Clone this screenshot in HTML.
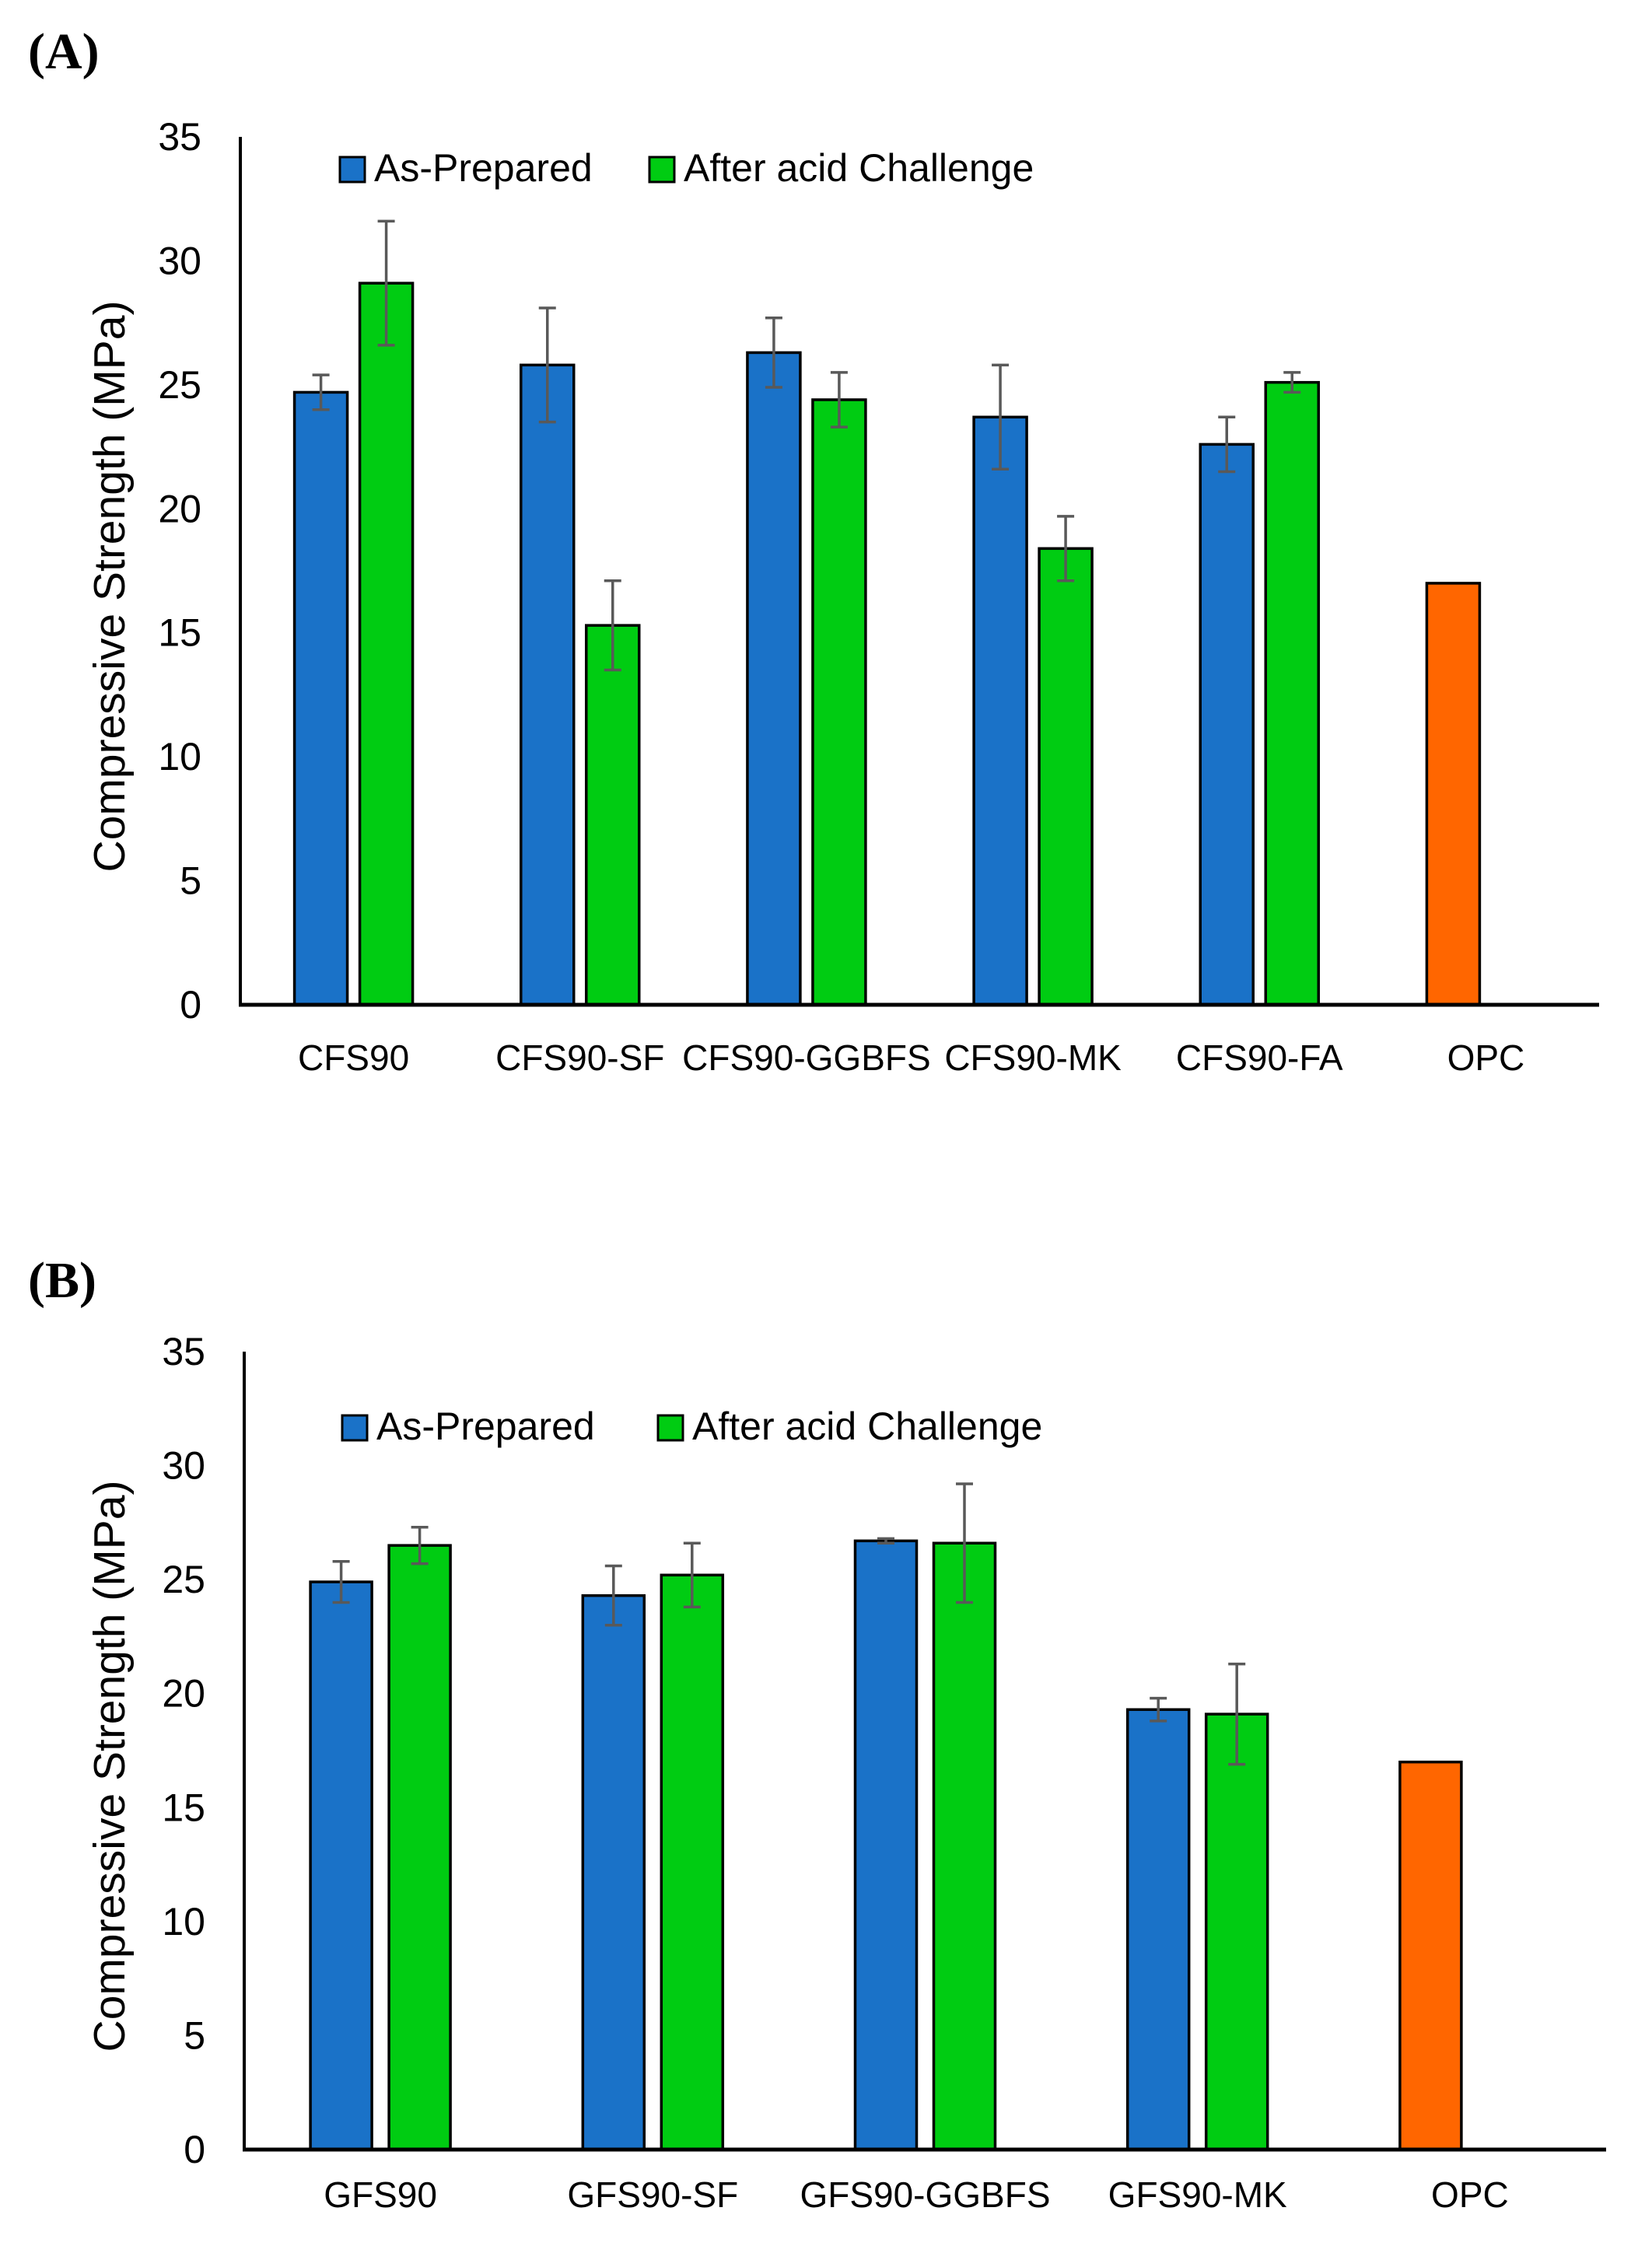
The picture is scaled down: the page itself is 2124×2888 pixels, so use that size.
<!DOCTYPE html>
<html><head><meta charset="utf-8">
<style>
html,body{margin:0;padding:0;background:#fff;}
svg{display:block;}
text{font-family:"Liberation Sans",sans-serif;}
</style></head>
<body>
<svg id="fig" width="2124" height="2888" viewBox="0 0 2124 2888" xmlns="http://www.w3.org/2000/svg">
<rect width="2124" height="2888" fill="#fff"/>
</svg>
<script>
// Panel A data
const catsA = ["CFS90","CFS90-SF","CFS90-GGBFS","CFS90-MK","CFS90-FA","OPC"];
const prepA = [24.7, 25.8, 26.3, 23.7, 22.6, 17.0];
const prepErrA = [0.7, 2.3, 1.4, 2.1, 1.1, 0];
const acidA = [29.1, 15.3, 24.4, 18.4, 25.1, null];
const acidErrA = [2.5, 1.8, 1.1, 1.3, 0.4, 0];
// Panel B data
const catsB = ["GFS90","GFS90-SF","GFS90-GGBFS","GFS90-MK","OPC"];
const prepB = [24.9, 24.3, 26.7, 19.3, 17.0];
const prepErrB = [0.9, 1.3, 0.1, 0.5, 0];
const acidB = [26.5, 25.2, 26.6, 19.1, null];
const acidErrB = [0.8, 1.4, 2.6, 2.2, 0];
const yTicks = [0,5,10,15,20,25,30,35];
const legendLabels = ["As-Prepared","After acid Challenge"];

const NS="http://www.w3.org/2000/svg";
const svg=document.getElementById('fig');
function mk(tag,attrs,parent,txt){const e=document.createElementNS(NS,tag);for(const k in attrs)e.setAttribute(k,attrs[k]);if(txt!==undefined)e.textContent=txt;(parent||svg).appendChild(e);return e;}

function panel(p){
  const g=mk('g',{});
  
  
  const y=v=>p.y0-(v/35)*(p.y0-p.y35);
  const cw=(p.xEnd-p.x0)/p.cats.length;
  const lab=mk('text',{x:p.labX,y:p.labY,style:'font-family:"Liberation Serif",serif;font-weight:bold;font-size:66px'},g,'('+p.id.toUpperCase()+')');
  
  
  yTicks.forEach(t=>{
    const tt=mk('text',{x:p.x0-50,y:y(t)+17,'text-anchor':'end','font-size':50},g,String(t));
    
    
  });
  const yt=mk('text',{x:0,y:0,'text-anchor':'middle','font-size':57,transform:`translate(${p.titleX},${(p.y0+p.y35)/2+20}) rotate(-90)`},g,'Compressive Strength (MPa)');
  
  
  p.cats.forEach((c,i)=>{
    const cx=p.x0+cw*(i+0.5);
    const bars=[[p.prep[i],p.prepErr[i],i===p.cats.length-1?'#ff6600':'#1a72c8',cx-p.gap/2-p.bw],[p.acid[i],p.acidErr[i],'#00cc12',cx+p.gap/2]];
    bars.forEach((b,j)=>{
      if(b[0]===null)return;
      const r=mk('rect',{x:b[3],y:y(b[0]),width:p.bw,height:p.y0-y(b[0]),fill:b[2],stroke:'#000','stroke-width':3.5},g);
      
      
      if(b[1]>0){
        const ex=b[3]+p.bw/2;
        const eg=mk('g',{stroke:'#595959','stroke-width':3.5},g);
        
        
        mk('line',{x1:ex,x2:ex,y1:y(b[0]+b[1]),y2:y(b[0]-b[1])},eg);
        mk('line',{x1:ex-11,x2:ex+11,y1:y(b[0]+b[1]),y2:y(b[0]+b[1])},eg);
        mk('line',{x1:ex-11,x2:ex+11,y1:y(b[0]-b[1]),y2:y(b[0]-b[1])},eg);
      }
    });
    const ct=mk('text',{x:cx,y:p.catY,'text-anchor':'middle','font-size':46},g,c);
    
    
  });
  const ya=mk('line',{x1:p.x0,x2:p.x0,y1:p.y35,y2:p.y0+2,stroke:'#000','stroke-width':4},g);
  
  
  const xa=mk('line',{x1:p.x0-2,x2:p.xEnd,y1:p.y0,y2:p.y0,stroke:'#000','stroke-width':5},g);
  
  
  const cols=['#1a72c8','#00cc12'];
  legendLabels.forEach((l,k)=>{
    const lg=mk('g',{},g);
    
    
    mk('rect',{x:p.legX[k],y:p.legY,width:32,height:32,fill:cols[k],stroke:'#000','stroke-width':3},lg);
    mk('text',{x:p.legX[k]+44,y:p.legY+31,'font-size':50},lg,l);
  });
}
panel({id:'a',cats:catsA,prep:prepA,prepErr:prepErrA,acid:acidA,acidErr:acidErrA,x0:309,xEnd:2056,y0:1292,y35:176,bw:68,gap:16,labX:36,labY:88,titleX:160,catY:1376,legX:[437,835],legY:202});
panel({id:'b',cats:catsB,prep:prepB,prepErr:prepErrB,acid:acidB,acidErr:acidErrB,x0:314,xEnd:2065,y0:2764,y35:1738,bw:79,gap:22,labX:36,labY:1668,titleX:160,catY:2838,legX:[440,846],legY:1820});
</script>
</body></html>
